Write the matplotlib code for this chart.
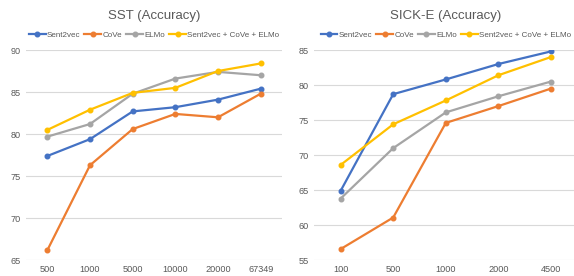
import matplotlib.pyplot as plt

# --- dados ---
sst_sizes = ["500", "1000", "5000", "10000", "20000", "67349"]
sst_sent2vec = [77.4, 79.4, 82.7, 83.2, 84.1, 85.4]
sst_cove = [66.2, 76.3, 80.6, 82.4, 82.0, 84.8]
sst_elmo = [79.7, 81.2, 84.8, 86.6, 87.4, 87.0]
sst_all = [80.5, 82.9, 84.9, 85.5, 87.5, 88.4]

sick_sizes = ["100", "500", "1000", "2000", "4500"]
sick_sent2vec = [64.9, 78.7, 80.8, 83.0, 84.8]
sick_cove = [56.6, 61.1, 74.6, 77.0, 79.5]
sick_elmo = [63.8, 71.0, 76.1, 78.4, 80.5]
sick_all = [68.6, 74.4, 77.8, 81.4, 84.0]

names = ["Sent2vec", "CoVe", "ELMo", "Sent2vec + CoVe + ELMo"]
colors = ["#4472C4", "#ED7D31", "#A5A5A5", "#FFC000"]
TEXT = "#595959"

plt.rcParams['font.family'] = ['Liberation Sans', 'DejaVu Sans']

fig = plt.figure(figsize=(5.74, 2.76), dpi=100)
ax1 = fig.add_axes([26 / 574, 15.7 / 276, 256 / 574, 210.3 / 276])
ax2 = fig.add_axes([314.3 / 574, 15.7 / 276, 263 / 574, 210.3 / 276])


def draw(ax, sizes, series, title, ylim):
    xs = list(range(len(sizes)))
    for vals, name, col in zip(series, names, colors):
        ax.plot(xs, vals, color=col, lw=1.6, marker='o', ms=3.3, label=name)
    ax.set_xlim(-0.5, len(sizes) - 0.5)
    ax.set_ylim(*ylim)
    ax.set_yticks(range(ylim[0], ylim[1] + 1, 5))
    ax.set_xticks(xs)
    ax.set_xticklabels(sizes)
    ax.yaxis.grid(True, color="#D9D9D9", lw=0.8)
    ax.set_axisbelow(True)
    for s in ax.spines.values():
        s.set_visible(False)
    ax.tick_params(length=0, labelsize=6.6, colors=TEXT, pad=4)
    ax.tick_params(axis='x', pad=3.5)
    ax.set_title(title, fontsize=9.5, color=TEXT, pad=22)
    ax.legend(loc='lower center', bbox_to_anchor=(0.5, 1.0), ncol=4, frameon=False,
              fontsize=5.8, handlelength=2.1, handletextpad=0.15, columnspacing=0.5,
              borderaxespad=1.0, labelcolor=TEXT)


draw(ax1, sst_sizes, [sst_sent2vec, sst_cove, sst_elmo, sst_all], "SST (Accuracy)", (65, 90))
draw(ax2, sick_sizes, [sick_sent2vec, sick_cove, sick_elmo, sick_all], "SICK-E (Accuracy)", (55, 85))

fig.savefig("out.png", dpi=100)
